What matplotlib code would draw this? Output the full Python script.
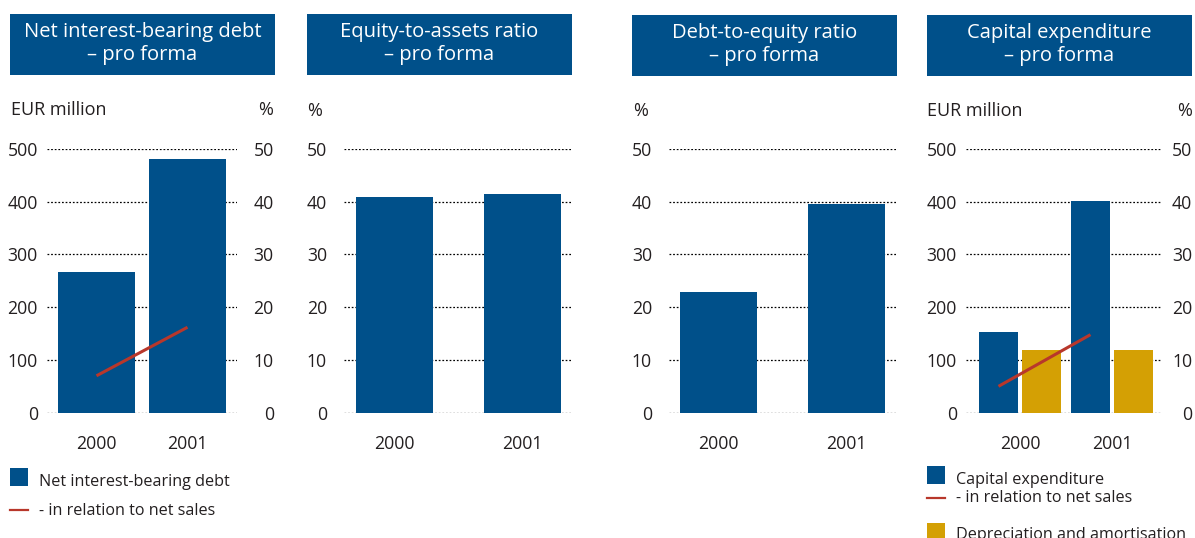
import numpy as np
import matplotlib.pyplot as plt
from matplotlib.patches import Rectangle
from matplotlib.lines import Line2D

plt.rcParams["font.family"] = ["Open Sans", "DejaVu Sans"]

years = ["2000", "2001"]
net_debt = [266, 481]            # EUR million
net_debt_pct = [7.0, 16.2]       # % of net sales
equity_to_assets = [40.9, 41.5]  # %
debt_to_equity = [22.8, 39.5]    # %
capex = [153, 402]               # EUR million
capex_pct = [5.0, 14.8]          # % of net sales
depreciation = [118, 118]        # EUR million

BLUE = "#00508a"
GOLD = "#d4a004"
RED = "#b8372b"
TEXT = "#231f20"

W, H = 1195, 538
fig = plt.figure(figsize=(W / 100, H / 100), dpi=100)


def fx(px):
    return px / W


def fy(py):
    return 1 - py / H


AX_TOP, AX_BOTTOM = 149, 412.7
x = np.arange(len(years))


def make_axes(left, right, xlim, ymax, step, left_pad):
    ax = fig.add_axes([fx(left), fy(AX_BOTTOM), (right - left) / W,
                       (AX_BOTTOM - AX_TOP) / H])
    ax.set_xlim(*xlim)
    ax.set_ylim(0, ymax)
    ax.set_xticks(x, years)
    ax.set_yticks(range(0, ymax + 1, step))
    for s in ax.spines.values():
        s.set_visible(False)
    ax.tick_params(length=0, labelsize=12.7, labelcolor=TEXT)
    ax.tick_params(axis="x", pad=16)
    ax.tick_params(axis="y", pad=left_pad)
    ax.grid(axis="y", color="black", linestyle=(0, (1.4, 1.5)), linewidth=0.9)
    ax.set_axisbelow(True)
    ax.patch.set_visible(False)
    return ax


def right_axis(ax, pad):
    tw = ax.twinx()
    tw.set_ylim(0, 50)
    tw.set_yticks(range(0, 51, 10))
    for s in tw.spines.values():
        s.set_visible(False)
    tw.tick_params(length=0, labelsize=12.7, labelcolor=TEXT, pad=pad)
    for lab in tw.get_yticklabels():
        lab.set_ha("right")
    return tw


def title_box(left, right, top, bottom, line1, line2):
    fig.add_artist(Rectangle((fx(left), fy(bottom)), (right - left) / W,
                             (bottom - top) / H, transform=fig.transFigure,
                             color=BLUE, lw=0))
    cx = fx((left + right) / 2)
    fig.text(cx, fy(top + 23), line1, ha="center", va="baseline",
             color="white", fontsize=14.5)
    fig.text(cx, fy(top + 46), line2, ha="center", va="baseline",
             color="white", fontsize=14.5)


def legend_square(left, top, color):
    fig.add_artist(Rectangle((fx(left), fy(top + 18)), 18 / W, 18 / H,
                             transform=fig.transFigure, color=color, lw=0))


def legend_line(left, y):
    fig.add_artist(Line2D([fx(left), fx(left + 18)], [fy(y), fy(y)],
                          transform=fig.transFigure, color=RED, lw=1.6))


def legend_text(left, baseline, s):
    fig.text(fx(left), fy(baseline), s, ha="left", va="baseline",
             color=TEXT, fontsize=11.6)


# Panel 1: net interest-bearing debt
ax1 = make_axes(47, 237, (-0.544, 1.544), 500, 100, 6.5)
ax1.bar(x, net_debt, width=0.846, color=BLUE)
tw1 = right_axis(ax1, 26.5)
tw1.plot(x, net_debt_pct, color=RED, lw=2.2, solid_capstyle="butt")
title_box(10, 275, 14, 75, "Net interest-bearing debt", "\u2013 pro forma")
fig.text(fx(11), fy(115), "EUR million", color=TEXT, fontsize=13, va="baseline")
fig.text(fx(273), fy(115), "%", color=TEXT, fontsize=13, va="baseline", ha="right")
legend_square(10, 468, BLUE)
legend_text(39, 486, "Net interest-bearing debt")
legend_line(10, 509.5)
legend_text(39, 515, "- in relation to net sales")

# Panel 2: equity-to-assets ratio
ax2 = make_axes(344, 572, (-0.395, 1.387), 50, 10, 12.2)
ax2.bar(x, equity_to_assets, width=0.60, color=BLUE)
title_box(307, 572, 14, 75, "Equity-to-assets ratio", "\u2013 pro forma")
fig.text(fx(307), fy(116), "%", color=TEXT, fontsize=13, va="baseline")

# Panel 3: debt-to-equity ratio
ax3 = make_axes(669, 897, (-0.387, 1.395), 50, 10, 12.2)
ax3.bar(x, debt_to_equity, width=0.60, color=BLUE)
title_box(632, 897, 15, 76, "Debt-to-equity ratio", "\u2013 pro forma")
fig.text(fx(633), fy(116.5), "%", color=TEXT, fontsize=13, va="baseline")

# Panel 4: capital expenditure
ax4 = make_axes(966, 1161, (-0.587, 1.533), 500, 100, 6.5)
off = 0.2337
ax4.bar(x - off, capex, width=0.424, color=BLUE)
ax4.bar(x + off, depreciation, width=0.424, color=GOLD)
tw4 = right_axis(ax4, 22.5)
tw4.plot(x - off, capex_pct, color=RED, lw=2.2, solid_capstyle="butt")
title_box(927, 1192, 15, 76, "Capital expenditure", "\u2013 pro forma")
fig.text(fx(927), fy(116.5), "EUR million", color=TEXT, fontsize=13, va="baseline")
fig.text(fx(1192), fy(116.5), "%", color=TEXT, fontsize=13, va="baseline", ha="right")
legend_square(927, 466, BLUE)
legend_text(956, 484, "Capital expenditure")
legend_line(927, 497.5)
legend_text(956, 502.5, "- in relation to net sales")
legend_square(927, 523, GOLD)
legend_text(956, 539, "Depreciation and amortisation")

fig.savefig("out.png", dpi=100)
